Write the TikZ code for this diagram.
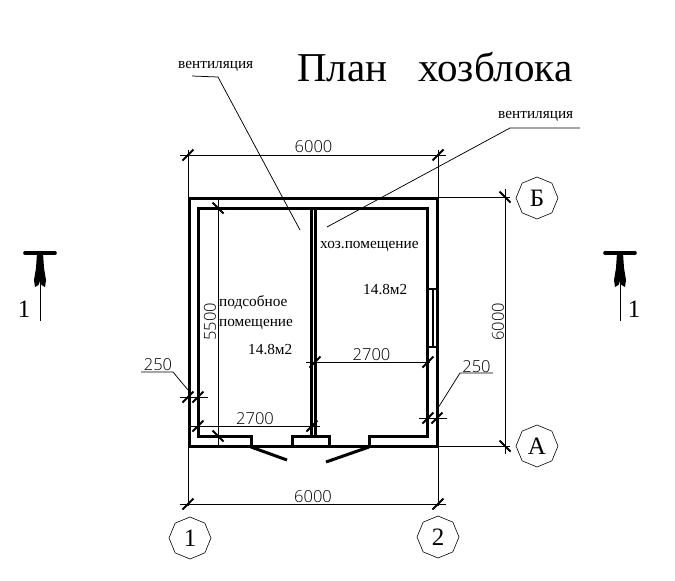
\documentclass[tikz,border=0pt]{standalone}
\usepackage{fontspec}
\setmainfont{Liberation Serif}
\newfontfamily\dimfont{Open Sans Light}
\usetikzlibrary{shapes.geometric}
\tikzset{
    wall/.style={line width=3pt, line cap=rect, line join=miter},
    thinline/.style={line width=0.75pt},
    ticks/.style={line width=1.9pt},
    dimtext/.style={inner sep=0pt, font=\dimfont\fontsize{16.5}{16.5}\selectfont},
    roomtext/.style={inner sep=0pt, align=left, font=\fontsize{15.3}{20}\selectfont},
    axis/.style={regular polygon, regular polygon sides=8, shape border rotate=22.5,
        draw, line width=0.6pt, minimum size=42pt, inner sep=0pt, font=\fontsize{25}{25}\selectfont},
    sectionbar/.style={line width=3.6pt, line cap=round},
    sectionnum/.style={inner sep=0pt, font=\fontsize{25}{25}\selectfont}
}
\newcommand{\slashtick}[2]{\draw[ticks] (#1-5.5,#2+5.5) -- (#1+5.5,#2-5.5);}
\newcommand{\backtick}[2]{\draw[ticks] (#1-5.5,#2-5.5) -- (#1+5.5,#2+5.5);}
\begin{document}
\begin{tikzpicture}[x=1pt, y=-1pt]
        \useasboundingbox (0,0) rectangle (675,581);

        % Title and notes
        \node[inner sep=0pt, anchor=west, font=\fontsize{41}{41}\selectfont] (title) at (297,67) {План\hspace{31pt}хозблока};
        \node[roomtext, anchor=west] (vent1) at (178,66) {вентиляция};
        \node[roomtext, anchor=west] (vent2) at (498,116) {вентиляция};
        \coordinate (vent1a) at (192,76);
        \coordinate (vent1b) at (218,77);
        \coordinate (vent1c) at (300,230);
        \coordinate (vent2a) at (580,128);
        \coordinate (vent2b) at (510,128);
        \coordinate (vent2c) at (327,227);
        \draw[thinline] (vent1a) -- (vent1b) -- (vent1c);
        \draw[thinline] (vent2a) -- (vent2b) -- (vent2c);

        % Walls
        \draw[wall] (189,198.3) rectangle (437.5,446.3);
        \draw[wall] (251,446) -- (251,436.3) -- (198.7,436.3) -- (198.7,208.8) -- (427.5,208.8) -- (427.5,436.3) -- (369,436.3) -- (369,446);
        \draw[wall] (292,446) -- (292,436.3) -- (329,436.3) -- (329,446);
        \draw[wall] (311.3,208.8) -- (311.3,436.3);
        \draw[wall] (315.4,208.8) -- (315.4,436.3);

        % Window
        \draw[line width=2pt] (427.5,289) -- (437.5,289);
        \draw[line width=2pt] (427.5,347) -- (437.5,347);
        \draw[line width=1.6pt] (433,289) -- (433,347);

        % Doors
        \draw[wall, line cap=butt] (251,447) -- (287,460);
        \draw[wall, line cap=butt] (369,447) -- (326,462);

        % Outer dimensions
        \draw[thinline] (180,155) -- (446,155);
        \draw[thinline] (188.5,150) -- (188.5,197);
        \draw[thinline] (438,150) -- (438,197);
        \node[dimtext] (top6000) at (313.5,147) {6000};
        \slashtick{188}{155} \slashtick{438}{155}

        \draw[thinline] (180,504) -- (446,504);
        \draw[thinline] (188.5,446) -- (188.5,506);
        \draw[thinline] (438,446) -- (438,506);
        \node[dimtext] (bot6000) at (313,497) {6000};
        \slashtick{188}{504} \slashtick{438}{504}

        \draw[thinline] (505,189) -- (505,454);
        \draw[thinline] (438,197) -- (510,197);
        \draw[thinline] (438,446) -- (510,446);
        \node[dimtext, rotate=90] (right6000) at (498,322) {6000};
        \backtick{505}{197} \backtick{505}{446}

        % Inner dimensions
        \draw[thinline] (218,198) -- (218,446);
        \node[dimtext, rotate=90] (in5500) at (210,322) {5500};
        \backtick{218}{208} \backtick{218}{436}

        \draw[thinline] (190,426) -- (320,426);
        \node[dimtext] (in2700a) at (255,419) {2700};
        \slashtick{198}{426} \slashtick{312}{426}

        \draw[thinline] (306,362) -- (430,362);
        \node[dimtext] (in2700b) at (371.5,355) {2700};
        \slashtick{315}{362} \slashtick{428}{362}

        % Wall thickness
        \draw[thinline] (180,397) -- (208,397);
        \draw[thinline] (141,372) -- (173,372) -- (188,390);
        \node[dimtext] (wall250a) at (158,365) {250};
        \slashtick{188}{397} \slashtick{198}{397}

        \draw[thinline] (419,418) -- (447,418);
        \draw[thinline] (493,373) -- (460,373) -- (438,408);
        \node[dimtext] (wall250b) at (476.5,367) {250};
        \slashtick{428}{418} \slashtick{437}{418}

        % Rooms
        \node[roomtext, anchor=west] (room1) at (219,313) {подсобное\\помещение};
        \node[roomtext, anchor=west] (area1) at (248,350) {14.8м2};
        \node[roomtext, anchor=west] (room2) at (320,246) {хоз.помещение};
        \node[roomtext, anchor=west] (area2) at (363,290) {14.8м2};

        % Axes
        \node[axis] (ax1) at (190,538) {1};
        \node[axis] (ax2) at (438,537) {2};
        \node[axis] (axA) at (537,446) {А};
        \node[axis] (axB) at (537,198) {Б};

        % Section marks
        \foreach \nm/\sx/\tx in {left/40/24, right/620/634} {
            \draw[sectionbar] (\sx-15,253) -- (\sx+15,253);
            \fill (\sx-3,253) -- (\sx+3,253) -- (\sx+4,268) -- (\sx+6,280) -- (\sx+5,287) -- (\sx+1.5,285) -- (\sx,281) -- (\sx-1.5,285) -- (\sx-5,287) -- (\sx-6,280) -- (\sx-4,268) -- cycle;
            \draw[thinline] (\sx,270) -- (\sx,321);
            \node[sectionnum] (sec\nm) at (\tx,309) {1};
        }

        \end{tikzpicture}
\end{document}
